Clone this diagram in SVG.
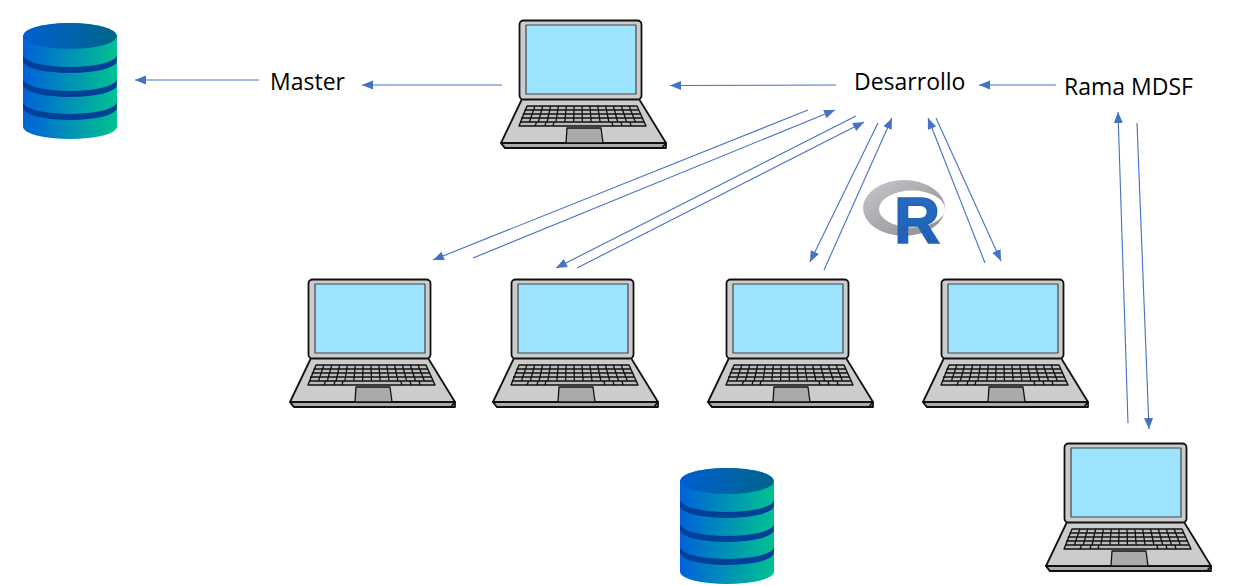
<svg xmlns="http://www.w3.org/2000/svg" width="1240" height="586" viewBox="0 0 1240 586">
<style>
.lbl{font-family:"Open Sans","Liberation Sans",sans-serif;font-size:23px;fill:#000}
.c{fill:none;stroke:#4472C4;stroke-width:1.1;marker-end:url(#ah)}
.k{stroke:#111;fill:#bbb}
</style>
<defs>
<marker id="ah" markerUnits="userSpaceOnUse" markerWidth="12" markerHeight="10" refX="11" refY="4.500" orient="auto"><path d="M0 0L11 4.500L0 9Z" fill="#4472C4"/></marker>
<linearGradient id="b" x1="0" x2="1" y1="0" y2="0"><stop offset="0" stop-color="#0062DA"/><stop offset="1" stop-color="#00C291"/></linearGradient>
<linearGradient id="t" x1="0" x2="1" y1="0" y2="0"><stop offset="0" stop-color="#005FD0"/><stop offset="1" stop-color="#00668A"/></linearGradient>
<linearGradient id="ring" x1="0" x2="1" y1="0" y2="1"><stop offset="0" stop-color="#C8C8CC"/><stop offset="1" stop-color="#8C8C90"/></linearGradient>
<linearGradient id="rb" x1="0" x2="0" y1="0" y2="1"><stop offset="0" stop-color="#2A6FC4"/><stop offset="1" stop-color="#1A5CB0"/></linearGradient>
<g id="laptop" stroke-linejoin="round">
<path d="M21 79H138L165 123V128H4L0 123Z" fill="#ccc" stroke="#111" stroke-width="1.800"/>
<path d="M0 123H165L161 128H4Z" fill="#aaa" stroke="#111" stroke-width="1.800"/>
<path d="M66 108H100L102 123H65Z" fill="#aaa" stroke="#111" stroke-width="1.300"/>
<path d="M26 86H136L145 106H18Z" class="k" stroke-width="1.400"/>
<path d="M23.500 90H138M21.700 94H139.800M20 98H141.600M19.600 102H143.200M33.900 86L28.400 102M41.700 86L37.300 102M49.600 86L46.100 102M57.400 86L54.900 102M65.300 86L63.800 102M73.100 86L72.600 102M81 86L81.400 102M88.900 86L90.200 102M96.700 86L99.100 102M104.600 86L107.900 102M112.400 86L116.700 102M120.300 86L125.600 102M128.100 86L134.400 102M35.700 102L34 106M45 102L44 106M53 102L52 106M110.700 102L112 106M120 102L121 106M129 102L130 106" fill="none" stroke="#111" stroke-width="1.300"/>
<rect x="18.500" y="0.500" width="122" height="79" rx="4" fill="#ccc" stroke="#111" stroke-width="1.800"/>
<rect x="25" y="5" width="110" height="69" fill="#9CE3FF" stroke="#444" stroke-width="1.200"/>
</g>
<g id="db">
<path d="M23 36A47 13 0 0 1 117 36V127A47 12 0 0 1 23 127Z" fill="url(#b)"/>
<ellipse cx="70" cy="36" rx="47" ry="13" fill="url(#t)"/>
<path d="M23 55A47 12 0 0 0 117 55V61A47 12 0 0 1 23 61Z" fill="#004098"/>
<path d="M23 79A47 12 0 0 0 117 79V85A47 12 0 0 1 23 85Z" fill="#004098"/>
<path d="M23 102A47 12 0 0 0 117 102V108A47 12 0 0 1 23 108Z" fill="#004098"/>
</g>
</defs>
<g id="connectors">
<path class="c" d="M259 80H135"/>
<path class="c" d="M502 85H362"/>
<path class="c" d="M836 85L670 85.500"/>
<path class="c" d="M1056 85H979"/>
<path class="c" d="M1128 423L1118 112"/>
<path class="c" d="M1137 123L1149 429"/>
<path class="c" d="M808 110L433 260"/>
<path class="c" d="M473 258L835 110"/>
<path class="c" d="M856 116L556 268"/>
<path class="c" d="M577 268L864 122"/>
<path class="c" d="M878 123L810 262"/>
<path class="c" d="M824 270L892 118"/>
<path class="c" d="M985 263L928 118"/>
<path class="c" d="M936 118L1001 261"/>
</g>
<g id="db-master"><use href="#db"/></g>
<g id="db-bottom" transform="translate(657 445)"><use href="#db"/></g>
<g id="laptop-top" transform="translate(501 20)"><use href="#laptop"/></g>
<g id="laptop-1" transform="translate(290 279)"><use href="#laptop"/></g>
<g id="laptop-2" transform="translate(493 279)"><use href="#laptop"/></g>
<g id="laptop-3" transform="translate(708 279)"><use href="#laptop"/></g>
<g id="laptop-4" transform="translate(923 279)"><use href="#laptop"/></g>
<g id="laptop-5" transform="translate(1046 443)"><use href="#laptop"/></g>
<g id="r-logo">
<path fill-rule="evenodd" d="M863 208a41 28 0 1 0 82 0a41 28 0 1 0 -82 0ZM879 209a33 18.500 0 1 1 66 0a33 18.500 0 1 1 -66 0Z" fill="url(#ring)"/>
<text x="894" y="242.500" font-family="Liberation Sans, Arial, sans-serif" font-weight="700" font-size="64" fill="url(#rb)" stroke="#1F64B8" stroke-width="1.500">R</text>
</g>
<g id="label-master"><text class="lbl" x="270" y="90">Master</text></g>
<g id="label-desarrollo"><text class="lbl" x="854" y="90">Desarrollo</text></g>
<g id="label-rama"><text class="lbl" x="1064" y="95">Rama MDSF</text></g>
</svg>
